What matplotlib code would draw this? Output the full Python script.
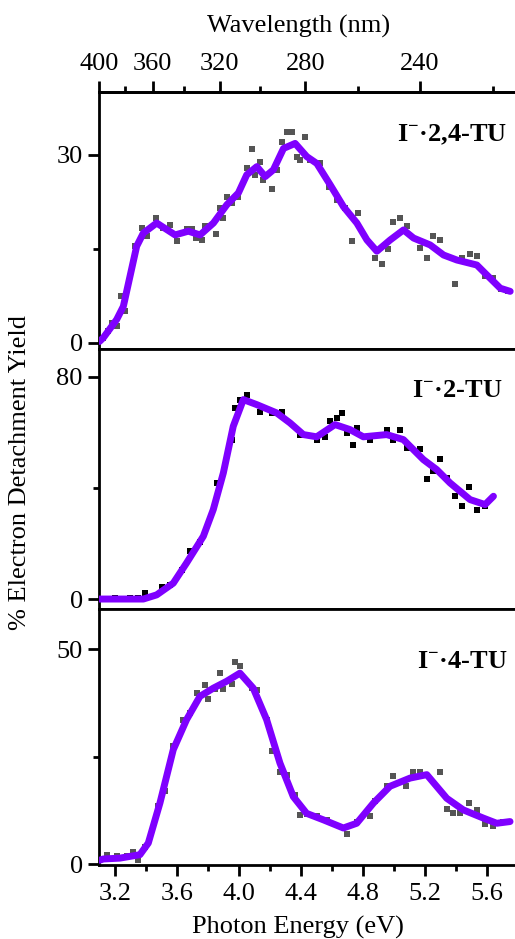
import numpy as np
import matplotlib
matplotlib.use('Agg')
import matplotlib.pyplot as plt
from matplotlib.ticker import FixedLocator, NullFormatter

plt.rcParams['font.family'] = ['Liberation Serif', 'DejaVu Serif']
plt.rcParams['mathtext.fontset'] = 'custom'
plt.rcParams['mathtext.rm'] = 'Liberation Serif'
plt.rcParams['mathtext.bf'] = 'Liberation Serif:bold'
plt.rcParams['font.size'] = 19

# I-.2,4-TU  (photon energy in eV, % yield)
tu24_pts_e = [3.125, 3.157, 3.178, 3.211, 3.236, 3.264, 3.329, 3.372, 3.409, 3.464, 3.507, 3.555,
              3.602, 3.667, 3.695, 3.723, 3.759, 3.781, 3.852, 3.877, 3.899, 3.92, 3.953, 3.996,
              4.049, 4.082, 4.103, 4.135, 4.157, 4.211, 4.243, 4.275, 4.307, 4.34, 4.372, 4.393,
              4.426, 4.458, 4.522, 4.583, 4.63, 4.684, 4.727, 4.77, 4.877, 4.92, 4.963, 4.996,
              5.039, 5.082, 5.168, 5.211, 5.254, 5.297, 5.394, 5.437, 5.49, 5.533, 5.587, 5.641,
              5.688, 5.738]
tu24_pts_y = [0.7, 1.8, 3.1, 2.6, 7.4, 5.0, 15.4, 18.3, 17.1, 19.9, 18.3, 18.8,
              16.2, 18.1, 18.1, 16.7, 16.4, 18.6, 17.4, 21.5, 19.9, 23.3, 22.3, 23.3,
              27.9, 30.9, 26.8, 28.9, 26.0, 24.5, 27.6, 32.1, 33.7, 33.7, 29.7, 29.2,
              32.9, 29.2, 28.6, 24.9, 22.8, 21.5, 16.2, 20.7, 13.5, 12.6, 14.9, 19.3,
              19.9, 18.6, 15.1, 13.5, 17.0, 16.4, 9.3, 13.5, 14.2, 13.8, 10.6, 10.3,
              8.5, 8.2]
tu24_fit_e = [3.1, 3.125, 3.211, 3.254, 3.297, 3.34, 3.383, 3.469, 3.588, 3.673, 3.749, 3.835,
              3.921, 3.996, 4.05, 4.115, 4.169, 4.222, 4.287, 4.362, 4.437, 4.502, 4.588, 4.674,
              4.76, 4.825, 4.889, 4.975, 5.061, 5.126, 5.233, 5.319, 5.405, 5.534, 5.599, 5.685,
              5.749]
tu24_fit_y = [0.2, 0.8, 3.7, 5.8, 10.6, 15.4, 17.5, 19.1, 17.2, 17.8, 17.2, 19.1,
              22.0, 23.9, 26.8, 28.1, 26.5, 27.6, 31.0, 31.8, 29.7, 28.6, 25.2, 21.7,
              19.1, 16.4, 14.6, 16.4, 18.0, 16.7, 15.6, 14.0, 13.2, 12.4, 10.8, 8.7,
              8.2]

# I-.2-TU
tu2_pts_e = [3.15, 3.2, 3.25, 3.3, 3.35, 3.393, 3.501, 3.555, 3.63, 3.684, 3.748, 3.856, 3.953,
             3.974, 4.006, 4.049, 4.135, 4.211, 4.275, 4.393, 4.501, 4.555, 4.587, 4.63,
             4.662, 4.695, 4.738, 4.759, 4.845, 4.953, 4.996, 5.039, 5.082, 5.168, 5.211,
             5.254, 5.297, 5.34, 5.393, 5.437, 5.486, 5.533, 5.587]
tu2_pts_y = [0.0, 0.2, 0.0, 0.3, 0.5, 2.1, 4.3, 5.1, 10.6, 17.2, 20.4, 41.8, 57.4,
             68.8, 71.8, 73.6, 67.2, 67.0, 67.2, 59.2, 57.4, 58.4, 64.0, 65.2,
             66.8, 59.8, 55.6, 61.6, 57.4, 61.0, 57.4, 61.0, 54.4, 54.0, 43.2,
             46.0, 50.4, 43.6, 37.2, 33.6, 40.3, 31.9, 33.4]
tu2_fit_e = [3.1, 3.125, 3.383, 3.469, 3.576, 3.662, 3.77, 3.834, 3.899, 3.963, 4.028, 4.114,
             4.243, 4.329, 4.415, 4.501, 4.619, 4.716, 4.802, 4.952, 5.06, 5.189, 5.275,
             5.361, 5.49, 5.587, 5.641]
tu2_fit_y = [0.0, 0.0, 0.0, 1.5, 5.7, 13.0, 22.6, 32.2, 45.4, 62.2, 71.8, 70.0,
             67.0, 63.4, 59.2, 58.4, 62.8, 61.0, 58.4, 59.2, 57.4, 50.2, 46.6,
             41.8, 35.8, 34.0, 37.0]

# I-.4-TU
tu4_pts_e = [3.146, 3.211, 3.275, 3.318, 3.35, 3.393, 3.479, 3.522, 3.576, 3.641, 3.684, 3.727,
             3.78, 3.802, 3.845, 3.877, 3.899, 3.953, 3.974, 4.006, 4.082, 4.114, 4.178,
             4.211, 4.264, 4.307, 4.361, 4.393, 4.436, 4.501, 4.565, 4.695, 4.759, 4.845,
             4.877, 4.952, 4.996, 5.077, 5.124, 5.168, 5.297, 5.34, 5.383, 5.426, 5.486,
             5.533, 5.587, 5.636, 5.705]
tu4_pts_y = [2.2, 1.8, 1.9, 2.9, 1.0, 4.1, 13.4, 16.9, 27.4, 33.6, 35.1, 39.8,
             41.7, 38.4, 40.7, 44.4, 40.7, 41.9, 46.9, 46.1, 40.9, 40.5, 33.6,
             26.2, 21.5, 20.8, 16.1, 11.5, 11.7, 11.2, 10.3, 7.0, 9.7, 11.1,
             14.6, 18.1, 20.4, 18.2, 21.5, 21.5, 21.5, 12.8, 11.9, 11.9, 14.2,
             12.5, 9.4, 8.9, 9.9]
tu4_fit_e = [3.1, 3.125, 3.232, 3.361, 3.415, 3.49, 3.576, 3.662, 3.748, 3.834, 3.92, 4.006,
             4.092, 4.178, 4.264, 4.35, 4.436, 4.544, 4.673, 4.759, 4.867, 4.974, 5.103,
             5.211, 5.34, 5.447, 5.576, 5.662, 5.748]
tu4_fit_y = [0.9, 1.2, 1.4, 2.2, 4.9, 14.2, 26.6, 33.6, 39.0, 40.9, 42.5, 44.4,
             40.9, 33.6, 23.5, 15.7, 11.8, 10.3, 8.4, 9.5, 14.2, 18.1, 20.0,
             20.8, 15.3, 12.6, 10.7, 9.5, 9.9]

panels = [
    (tu24_pts_e, tu24_pts_y, tu24_fit_e, tu24_fit_y, '#555555', r'I$^{\mathbf{-}}$·2,4-TU', (-1, 40), 30, 15, (0.981, 0.833)),
    (tu2_pts_e, tu2_pts_y, tu2_fit_e, tu2_fit_y, '#000000', r'I$^{\mathbf{-}}$·2-TU', (-3.6, 90), 80, 40, (0.971, 0.838)),
    (tu4_pts_e, tu4_pts_y, tu4_fit_e, tu4_fit_y, '#555555', r'I$^{\mathbf{-}}$·4-TU', (-0.2, 59.3), 50, 25, (0.983, 0.793)),
]

fig = plt.figure(figsize=(5.15, 9.39), dpi=100)
left, right = 0.193, 1.0
bounds = [(0.6283, 0.902), (0.3514, 0.6283), (0.0788, 0.3514)]
purple = '#7f00ff'
hc = 1239.84
xmin = hc / 400  # left edge sits at 400 nm

axes = []
for (pe, py, fe, fy, mcol, label, ylim, ymaj, ymin, tpos), (b, t) in zip(panels, bounds):
    ax = fig.add_axes([left, b, right - left, t - b])
    ax.plot(pe, py, 's', color=mcol, markersize=4.2, markeredgewidth=0, zorder=2)
    ax.plot(fe, fy, '-', color=purple, linewidth=5, solid_joinstyle='round',
            solid_capstyle='round', zorder=3)
    ax.set_xlim(xmin, 5.78)
    ax.set_ylim(*ylim)
    ax.set_yticks([0, ymaj])
    ax.yaxis.set_minor_locator(FixedLocator([ymin]))
    ax.set_xticks(np.arange(3.2, 5.61, 0.4))
    ax.xaxis.set_minor_locator(FixedLocator(np.arange(3.4, 5.81, 0.4)))
    ax.tick_params(which='major', direction='out', length=8, width=2, pad=4)
    ax.tick_params(which='minor', direction='out', length=4, width=2)
    ax.tick_params(axis='x', labelbottom=False)
    ax.spines['right'].set_visible(False)
    for s in ['left', 'top', 'bottom']:
        ax.spines[s].set_linewidth(2)
    ax.text(tpos[0], tpos[1], label, transform=ax.transAxes, ha='right', va='center',
            fontsize=19, fontweight='bold')
    axes.append(ax)

axes[-1].tick_params(axis='x', labelbottom=True, pad=5)

# wavelength axis on top
def ev2nm(x):
    x = np.asarray(x, dtype=float)
    with np.errstate(divide='ignore'):
        return hc / x

top = axes[0].secondary_xaxis('top', functions=(ev2nm, ev2nm))
top.set_xticks([399.99, 360, 320, 280, 240], ['400', '360', '320', '280', '240'])
top.xaxis.set_minor_locator(FixedLocator([380, 340, 300, 260, 220]))
top.xaxis.set_minor_formatter(NullFormatter())
top.tick_params(which='major', direction='out', length=8, width=2, pad=4)
top.tick_params(which='minor', direction='out', length=4, width=2)
top.spines['top'].set_linewidth(2)

fig.text(299 / 515, 1 - 26 / 939, 'Wavelength (nm)', ha='center', va='center', fontsize=19)
fig.text(298 / 515, 1 - 927 / 939, 'Photon Energy (eV)', ha='center', va='center', fontsize=19)
fig.text(20 / 515, 1 - 473 / 939, '% Electron Detachment Yield', ha='center', va='center',
         rotation=90, fontsize=19)

fig.savefig('out.png', dpi=100)
